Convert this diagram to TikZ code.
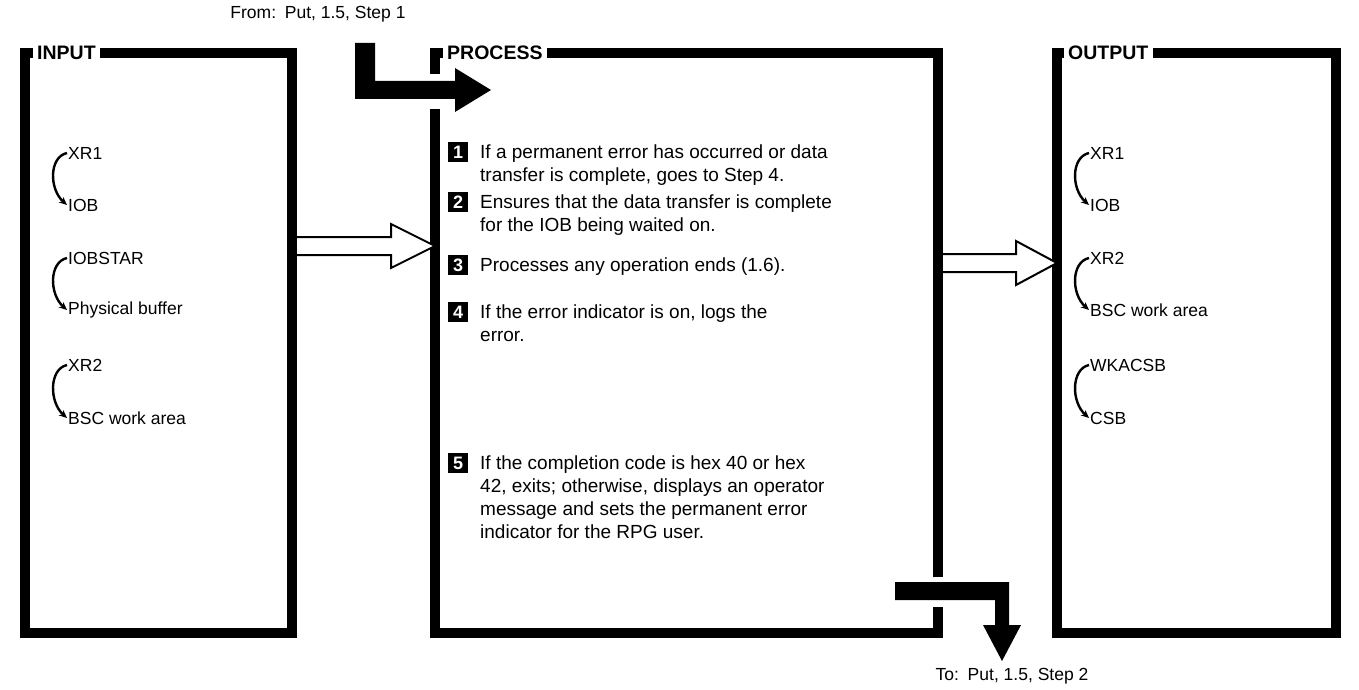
\documentclass[tikz,border=0pt]{standalone}
\usepackage{fontspec}
\setmainfont{Liberation Sans}
\usetikzlibrary{arrows.meta,calc}
\begin{document}
\begin{tikzpicture}[x=1pt,y=-1pt,
  frame/.style={line width=10pt, line cap=butt, line join=miter},
  area/.style={draw=none, inner sep=0pt, anchor=north west},
  lbl/.style={font=\fontsize{19.5}{22}\selectfont\bfseries, anchor=west, inner sep=0pt},
  txt/.style={font=\fontsize{19}{23}\selectfont, anchor=north west, inner sep=0pt, align=left},
  item/.style={font=\fontsize{17.5}{22}\selectfont, anchor=west, inner sep=0pt},
  note/.style={font=\fontsize{17.5}{20}\selectfont, inner sep=0pt},
  numbox/.style={fill=black, text=white, font=\fontsize{18}{18}\selectfont\bfseries, minimum size=20pt, inner sep=0pt},
  hollow/.style={draw=black, line width=2pt, fill=white, line join=miter},
  solidarrow/.style={fill=black, draw=none},
  curv/.style={-{Stealth[length=8pt,width=7pt]}, line width=2.4pt}
]
\useasboundingbox (0,0) rectangle (1359,690);

% box areas
\node[area, minimum width=267pt, minimum height=580pt] (inbox) at (25,53) {};
\node[area, minimum width=503pt, minimum height=580pt] (prbox) at (435,53) {};
\node[area, minimum width=279pt, minimum height=580pt] (outbox) at (1057,53) {};

% labels
\node[lbl] (inlbl) at (37,53) {INPUT};
\node[lbl] (prlbl) at (447,53) {PROCESS};
\node[lbl] (outlbl) at (1068,53) {OUTPUT};

% frames
\draw[frame] ([xshift=-4pt]inlbl.west) -| (inbox.south west) -- (inbox.south east) -- (inbox.north east) -- ([xshift=4pt]inlbl.east);
\draw[frame] ([xshift=-4pt]prlbl.west) -| ($(prbox.north west)+(0,21)$);
\draw[frame] ($(prbox.north west)+(0,56)$) -- (prbox.south west) -- (prbox.south east) -- ($(prbox.south east)+(0,-26)$);
\draw[frame] ($(prbox.south east)+(0,-56)$) -- (prbox.north east) -- ([xshift=4pt]prlbl.east);
\draw[frame] ([xshift=-4pt]outlbl.west) -| (outbox.south west) -- (outbox.south east) -- (outbox.north east) -- ([xshift=4pt]outlbl.east);

% from / to notes
\node[note] (from) at (318,14) {From:\enspace Put, 1.5, Step 1};
\node[note] (to) at (1012,676) {To:\enspace Put, 1.5, Step 2};

% solid arrow in
\coordinate (fa) at (365,43);
\fill[solidarrow] ($(fa)+(-10,0)$) -- ($(fa)+(10,0)$) -- ($(fa)+(10,38)$) -- (455,81) -- (455,68) -- (491,90) -- (455,112) -- (455,99) -- ($(fa)+(-10,56)$) -- cycle;

% solid arrow out
\coordinate (ta) at (1002,661);
\fill[solidarrow] (895,582) -- (1009,582) -- (1009,625) -- (1021,625) -- (ta) -- (983,625) -- (995,625) -- (995,600) -- (895,600) -- cycle;

% hollow arrows
\draw[hollow] (inbox.east |- 0,237) -- (391,237) -- (391,224) -- (prbox.west |- 0,246) -- (391,268) -- (391,255) -- (inbox.east |- 0,255);
\draw[hollow] (prbox.east |- 0,254) -- (1016,254) -- (1016,241) -- (outbox.west |- 0,263) -- (1016,285) -- (1016,272) -- (prbox.east |- 0,272);
% redraw the bars over the arrow ends
\draw[frame] (inbox.north east) -- (inbox.south east);
\draw[frame] ($(prbox.south east)+(0,-56)$) -- ($(prbox.north east)+(0,-5)$);

% process steps
\node[numbox] (n1) at (458,152) {1};
\node[txt] (t1) at (480,145) {If a permanent error has occurred or data\\transfer is complete, goes to Step 4.};
\node[numbox] (n2) at (458,202) {2};
\node[txt] (t2) at (480,195) {Ensures that the data transfer is complete\\for the IOB being waited on.};
\node[numbox] (n3) at (458,265) {3};
\node[txt] (t3) at (480,258) {Processes any operation ends (1.6).};
\node[numbox] (n4) at (458,312) {4};
\node[txt] (t4) at (480,305) {If the error indicator is on, logs the\\error.};
\node[numbox] (n5) at (458,463) {5};
\node[txt] (t5) at (480,456) {If the completion code is hex 40 or hex\\42, exits; otherwise, displays an operator\\message and sets the permanent error\\indicator for the RPG user.};

% input items
\node[item] (i1) at (68,153) {XR1};
\node[item] (i2) at (68,205) {IOB};
\node[item] (i3) at (68,258) {IOBSTAR};
\node[item] (i4) at (68,310) {Physical buffer};
\node[item] (i5) at (68,365) {XR2};
\node[item] (i6) at (68,418) {BSC work area};
\draw[curv] ([xshift=-1pt]i1.west) .. controls +(-18,4) and +(-18,-16) .. ([xshift=-1pt]i2.west);
\draw[curv] ([xshift=-1pt]i3.west) .. controls +(-18,4) and +(-18,-16) .. ([xshift=-1pt]i4.west);
\draw[curv] ([xshift=-1pt]i5.west) .. controls +(-18,4) and +(-18,-16) .. ([xshift=-1pt]i6.west);

% output items
\node[item] (o1) at (1090,153) {XR1};
\node[item] (o2) at (1090,205) {IOB};
\node[item] (o3) at (1090,258) {XR2};
\node[item] (o4) at (1090,310) {BSC work area};
\node[item] (o5) at (1090,365) {WKACSB};
\node[item] (o6) at (1090,418) {CSB};
\draw[curv] ([xshift=-1pt]o1.west) .. controls +(-18,4) and +(-18,-16) .. ([xshift=-1pt]o2.west);
\draw[curv] ([xshift=-1pt]o3.west) .. controls +(-18,4) and +(-18,-16) .. ([xshift=-1pt]o4.west);
\draw[curv] ([xshift=-1pt]o5.west) .. controls +(-18,4) and +(-18,-16) .. ([xshift=-1pt]o6.west);
\end{tikzpicture}
\end{document}
